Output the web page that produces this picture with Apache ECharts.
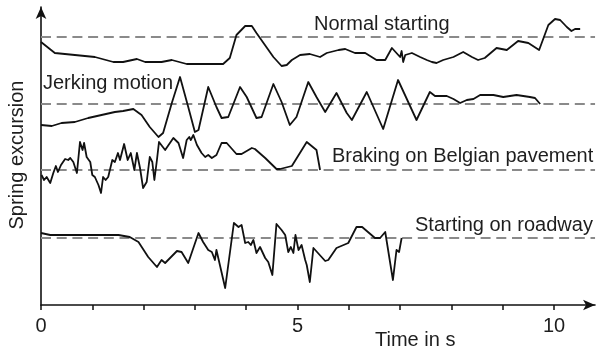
<!DOCTYPE html>
<html>
<head>
<meta charset="utf-8">
<script src="https://cdn.jsdelivr.net/npm/echarts@6/dist/echarts.min.js"></script>
<style>
html,body{margin:0;padding:0;background:#fff;}
#chart{width:599px;height:354px;}
</style>
</head>
<body>
<div id="chart"></div>
<script>
// time in s, spring excursion (arbitrary units, traces offset vertically)
const normalStarting = [
 [0,263],[0.27,252],[1.05,248],[1.41,243],[1.60,243],[1.87,246],[2.03,243],[2.35,243],[2.55,245],[2.84,241],
 [3.55,241],[3.68,247],[3.81,270],[3.98,279],[4.11,279],[4.20,272],[4.53,248],[4.69,239],[4.79,240],[4.89,245],
 [5.05,250],[5.24,251],[5.44,248],[5.57,252],[5.80,255],[5.93,256],[6.12,252],[6.32,252],[6.54,245],[6.71,245],
 [6.84,257],[7.00,248],[7.03,254],[7.06,243],[7.10,250],[7.23,252],[7.39,248],[7.52,245],[7.62,243],[7.71,242],
 [7.84,245],[8.04,248],[8.23,253],[8.40,248],[8.52,245],[8.65,247],[8.88,257],[9.08,255],[9.30,264],[9.50,262],
 [9.71,255],[9.89,280],[10.02,286],[10.12,285],[10.25,278],[10.34,274],[10.41,276],[10.51,276]
];
const jerkingMotion = [
 [0,180],[0.21,179],[0.40,182],[0.66,183],[0.92,187],[1.18,190],[1.44,193],[1.60,194],[1.80,196],[1.96,190],
 [2.12,178],[2.29,168],[2.38,172],[2.55,202],[2.71,228],[2.87,198],[3.00,173],[3.07,175],[3.26,218],[3.42,198],
 [3.52,187],[3.65,188],[3.88,218],[4.01,208],[4.20,187],[4.30,188],[4.53,221],[4.69,203],[4.85,180],[4.98,188],
 [5.21,223],[5.37,208],[5.54,193],[5.76,212],[5.96,192],[6.06,185],[6.35,213],[6.48,198],[6.67,176],[6.96,225],
 [7.23,195],[7.32,185],[7.58,213],[7.68,209],[7.91,209],[8.04,206],[8.17,202],[8.30,205],[8.43,206],[8.56,210],
 [8.82,210],[9.01,208],[9.27,210],[9.53,208],[9.63,207],[9.73,201]
];
const brakingBelgian = [
 [0.01,130],[0.06,125],[0.11,128],[0.18,122],[0.24,132],[0.29,139],[0.33,133],[0.39,140],[0.47,146],[0.53,145],
 [0.57,147],[0.63,143],[0.70,132],[0.76,163],[0.81,155],[0.84,162],[0.89,148],[0.96,143],[1.00,130],[1.05,128],
 [1.12,120],[1.17,112],[1.21,128],[1.26,125],[1.31,128],[1.39,145],[1.44,143],[1.50,152],[1.54,145],[1.62,161],
 [1.69,145],[1.75,152],[1.82,135],[1.87,152],[1.93,137],[1.99,117],[2.06,123],[2.12,148],[2.17,143],[2.21,125],
 [2.26,145],[2.30,163],[2.42,155],[2.58,167],[2.68,162],[2.77,147],[2.84,165],[2.89,168],[2.92,165],[2.97,170],
 [3.04,160],[3.13,152],[3.20,148],[3.26,150],[3.33,147],[3.42,150],[3.52,162],[3.62,162],[3.81,151],[3.91,151],
 [4.11,157],[4.17,156],[4.37,147],[4.59,136],[4.66,136],[4.89,139],[5.18,163],[5.37,155],[5.44,135]
];
const startingRoadway = [
 [0,72],[0.18,70],[1.51,70],[1.73,68],[1.90,63],[2.09,48],[2.26,38],[2.35,45],[2.42,42],[2.65,54],
 [2.74,53],[2.87,42],[3.07,72],[3.16,63],[3.26,55],[3.33,53],[3.39,45],[3.42,55],[3.59,17],[3.76,82],
 [3.85,78],[3.91,80],[3.98,62],[4.04,63],[4.09,60],[4.14,65],[4.20,52],[4.27,58],[4.37,47],[4.43,43],
 [4.51,30],[4.59,81],[4.69,75],[4.76,70],[4.82,53],[4.87,58],[4.92,52],[4.96,70],[5.02,55],[5.08,60],
 [5.15,45],[5.18,40],[5.24,23],[5.31,57],[5.54,44],[5.60,45],[5.76,57],[5.99,62],[6.15,78],[6.26,78],
 [6.51,67],[6.61,67],[6.71,73],[6.86,25],[6.93,55],[6.98,53],[7.03,67]
];
const baselines = [268, 201, 135, 67];
const traceNames = ['Normal starting', 'Jerking motion', 'Braking on Belgian pavement', 'Starting on roadway'];
const xTickValues = [0,1,2,3,4,5,6,7,8,9,10];
const xLabelValues = [0,5,10];
const xMax = 10.8;
const yMax = 298;

const FONT = '"Liberation Sans", Arial, sans-serif';
const traces = [normalStarting, jerkingMotion, brakingBelgian, startingRoadway];

const chart = echarts.init(document.getElementById('chart'), null, {renderer:'canvas'});
const series = traces.map((d, i) => ({
  name: traceNames[i],
  type: 'line',
  data: d,
  showSymbol: false,
  symbol: 'none',
  lineStyle: {color: '#111', width: 1.8, join: 'round'},
  z: 3,
  markLine: {
    silent: true,
    symbol: 'none',
    label: {show: false},
    lineStyle: {color: '#8a8a8a', width: 2, type: [10, 5.7]},
    data: [{yAxis: baselines[i]}],
    z: 2
  }
}));

const textStyle = {fontSize: 20, fontFamily: FONT, fill: '#1e1e1e', verticalAlign: 'middle'};
chart.setOption({
  animation: false,
  backgroundColor: '#fff',
  grid: {left: 41, right: 599 - 41 - xMax * 51.3, top: 305 - yMax, bottom: 49, containLabel: false},
  xAxis: {
    type: 'value', min: 0, max: xMax,
    axisLine: {show: true, lineStyle: {color: '#111', width: 1.6}, symbol: ['none', 'arrow'], symbolSize: [8, 12]},
    axisTick: {show: true, length: 5, inside: false, customValues: xTickValues, lineStyle: {color: '#111', width: 1.5}},
    axisLabel: {show: true, customValues: xLabelValues, margin: 11, fontSize: 20, fontFamily: FONT, color: '#1e1e1e'},
    splitLine: {show: false}
  },
  yAxis: {
    type: 'value', min: 0, max: yMax,
    axisLine: {show: true, onZero: false, lineStyle: {color: '#111', width: 1.6}, symbol: ['none', 'arrow'], symbolSize: [8, 12]},
    axisTick: {show: false},
    axisLabel: {show: false},
    splitLine: {show: false}
  },
  graphic: [
    {type: 'text', x: 314, y: 24, style: Object.assign({text: traceNames[0]}, textStyle)},
    {type: 'text', x: 43, y: 83, style: Object.assign({text: traceNames[1]}, textStyle)},
    {type: 'text', x: 332, y: 156, style: Object.assign({text: traceNames[2]}, textStyle)},
    {type: 'text', x: 415, y: 225, style: Object.assign({text: traceNames[3]}, textStyle)},
    {type: 'text', x: 375, y: 340, style: Object.assign({text: 'Time in s'}, textStyle)},
    {type: 'text', x: 17, y: 155, rotation: Math.PI / 2, style: Object.assign({text: 'Spring excursion', align: 'center'}, textStyle)}
  ],
  series: series
});
</script>
</body>
</html>
